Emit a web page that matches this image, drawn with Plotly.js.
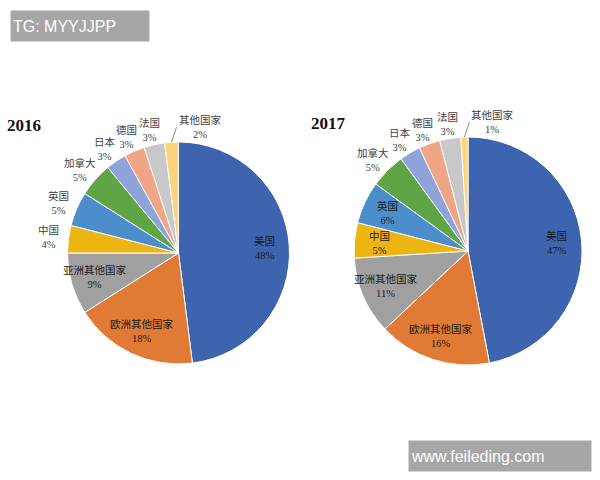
<!DOCTYPE html>
<html>
<head>
<meta charset="utf-8">
<script src="https://cdn.plot.ly/plotly-3.0.1.min.js"></script>
<style>html,body{margin:0;padding:0;background:#fff;}#chart{width:600px;height:480px;}</style>
</head>
<body>
<div id="chart"></div>
<script>
const categories = ['美国','欧洲其他国家','亚洲其他国家','中国','英国','加拿大','日本','德国','法国','其他国家'];
const values2016 = [48, 18, 9, 4, 5, 5, 3, 3, 3, 2];
const values2017 = [47, 16, 11, 5, 6, 5, 3, 3, 3, 1];
// label placement mode per slice: inside / outside / outside with leader line
const labelMode2016 = ['in','in','in','out','out','out','out','out','out','leader'];
const labelMode2017 = ['in','in','in','in','in','out','out','out','out','leader'];
const colors = ['#3E64B0','#E07A34','#A0A0A0','#EDB512','#4C8DCB','#5FA545','#8DA3D9','#F0A586','#C8C8C8','#FDD47A'];

const W = 600, H = 480;
const domain2016 = {x: [0.1125, 0.4825], y: [0.2417, 0.7042]};
const domain2017 = {x: [0.59, 0.97], y: [0.2396, 0.7146]};

const fontFam = 'Liberation Serif, Noto Sans CJK SC, serif';

function pie(vals, dom) {
  return {
    type: 'pie',
    labels: categories,
    values: vals,
    sort: false,
    direction: 'clockwise',
    rotation: 0,
    marker: {colors: colors, line: {color: '#ffffff', width: 1}},
    textinfo: 'none',
    hoverinfo: 'label+value',
    showlegend: false,
    domain: dom
  };
}

// Data labels positioned from each slice's mid-angle (computed from the values)
function labels(vals, modes, dom) {
  const cx = (dom.x[0] + dom.x[1]) / 2 * W;
  const cy = (1 - (dom.y[0] + dom.y[1]) / 2) * H;
  const r = Math.min((dom.x[1] - dom.x[0]) * W, (dom.y[1] - dom.y[0]) * H) / 2;
  const total = vals.reduce((a, b) => a + b, 0);
  let cum = 0;
  const out = [];
  vals.forEach((v, i) => {
    const mid = (cum + v / 2) / total;
    cum += v;
    const th = 2 * Math.PI * mid;
    const s = Math.sin(th), c = Math.cos(th);
    const txt = categories[i] + '<br>' + v + '%';
    if (modes[i] === 'in') {
      const px = cx + 0.78 * r * s, py = cy - 0.78 * r * c;
      out.push({text: txt, x: px / W, y: 1 - py / H, xref: 'paper', yref: 'paper',
        xanchor: 'center', yanchor: 'middle', showarrow: false,
        font: {family: fontFam, size: 10.5, color: '#1a1a1a'}});
    } else if (modes[i] === 'out') {
      const ex = cx + r * s, ey = cy - r * c;
      const px = ex + s * 20, py = ey - c * 15;
      out.push({text: txt, x: px / W, y: 1 - py / H, xref: 'paper', yref: 'paper',
        xanchor: 'center', yanchor: 'middle', showarrow: false,
        font: {family: fontFam, size: 10.5, color: '#404040'}});
    } else {
      const ex = cx + r * s, ey = cy - r * c;
      out.push({text: txt, x: ex / W, y: 1 - ey / H, xref: 'paper', yref: 'paper',
        showarrow: true, arrowhead: 0, arrowwidth: 1, arrowcolor: '#8c8c8c',
        ax: 5, ay: -15, standoff: 0, xanchor: 'left', yanchor: 'middle',
        font: {family: fontFam, size: 10.5, color: '#404040'}});
    }
  });
  return out;
}

const data = [pie(values2016, domain2016), pie(values2017, domain2017)];

const annotations = [
  {text: '<b>2016</b>', xref: 'paper', yref: 'paper', x: 0.008, y: 0.738, xanchor: 'left', yanchor: 'middle', showarrow: false,
   font: {family: 'Liberation Serif, serif', size: 17, color: '#111'}},
  {text: '<b>2017</b>', xref: 'paper', yref: 'paper', x: 0.515, y: 0.742, xanchor: 'left', yanchor: 'middle', showarrow: false,
   font: {family: 'Liberation Serif, serif', size: 17, color: '#111'}},
  {text: 'TG: MYYJJPP', xref: 'paper', yref: 'paper', x: 10/600, y: 1 - 10/480, xanchor: 'left', yanchor: 'top', showarrow: false,
   bgcolor: '#A6A6A6', width: 134, height: 26, align: 'left', borderpad: 2,
   font: {family: 'Liberation Sans, Arial, sans-serif', size: 16, color: '#ffffff'}},
  {text: 'www.feileding.com', xref: 'paper', yref: 'paper', x: 408/600, y: 1 - 440/480, xanchor: 'left', yanchor: 'top', showarrow: false,
   bgcolor: '#A6A6A6', width: 178, height: 26, align: 'left', borderpad: 2,
   font: {family: 'Liberation Sans, Arial, sans-serif', size: 16, color: '#ffffff'}}
].concat(labels(values2016, labelMode2016, domain2016), labels(values2017, labelMode2017, domain2017));

const layout = {
  width: W, height: H,
  margin: {l: 0, r: 0, t: 0, b: 0},
  paper_bgcolor: '#ffffff',
  plot_bgcolor: '#ffffff',
  annotations: annotations
};

Plotly.newPlot('chart', data, layout, {displayModeBar: false, staticPlot: true});
</script>
</body>
</html>
